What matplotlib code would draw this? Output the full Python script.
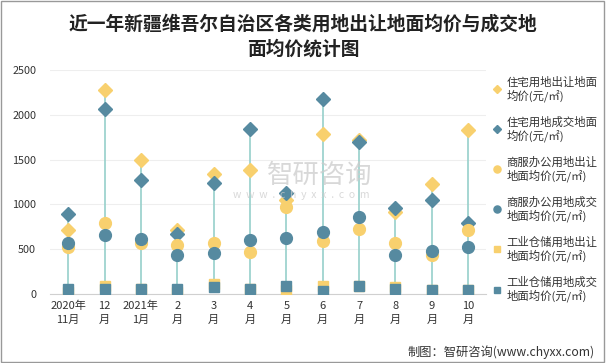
import numpy as np
import matplotlib.pyplot as plt
from matplotlib.patches import Rectangle

plt.rcParams['font.family'] = ['Noto Sans CJK SC', 'DejaVu Sans']

months = ['2020年\n11月', '12\n月', '2021年\n1月', '2\n月', '3\n月', '4\n月',
          '5\n月', '6\n月', '7\n月', '8\n月', '9\n月', '10\n月']

res_offer = [714, 2277, 1495, 714, 1335, 1384, 1049, 1786, 1719, 915, 1228, 1830]
res_deal = [893, 2065, 1272, 670, 1239, 1841, 1131, 2176, 1693, 960, 1045, 796]
com_offer = [521, 789, 573, 543, 573, 465, 967, 595, 729, 573, 439, 718]
com_deal = [565, 655, 617, 432, 454, 606, 629, 688, 856, 439, 476, 528]
ind_offer = [25, 95, 56, 22, 108, 56, 45, 90, 89, 75, 48, 48]
ind_deal = [56, 60, 56, 56, 74, 56, 89, 37, 89, 52, 48, 48]

labels = ['住宅用地出让地面\n均价(元/㎡)', '住宅用地成交地面\n均价(元/㎡)',
          '商服办公用地出让\n地面均价(元/㎡)', '商服办公用地成交\n地面均价(元/㎡)',
          '工业仓储用地出让\n地面均价(元/㎡)', '工业仓储用地成交\n地面均价(元/㎡)']

yellow = '#F8D06E'
blue = '#568AA0'
teal = '#96D0CB'

fig = plt.figure(figsize=(6.06, 3.63), dpi=100)
ax = fig.add_axes([0.0825, 0.19, 0.72, 0.617])

x = np.arange(len(months))
allv = np.array([res_offer, res_deal, com_offer, com_deal, ind_offer, ind_deal])
ax.vlines(x, allv.min(axis=0), allv.max(axis=0), color=teal, lw=1.2, zorder=1)

series = [(res_offer, yellow, 'D', 7), (res_deal, blue, 'D', 7),
          (com_offer, yellow, 'o', 8.5), (com_deal, blue, 'o', 8.5),
          (ind_offer, yellow, 's', 7.5), (ind_deal, blue, 's', 7.5)]
handles = []
for i, (vals, c, m, s) in enumerate(series):
    h, = ax.plot(x, vals, ls='none', marker=m, ms=s, color=c, mec=c, zorder=2 + i)
    handles.append(h)

ax.set_xlim(-0.5, 11.5)
ax.set_ylim(0, 2500)
ax.set_yticks(range(0, 2501, 500))
ax.set_xticks(x)
ax.set_xticklabels(months, fontsize=8, color='#333333', linespacing=1.45)
ax.tick_params(axis='y', labelsize=7.8, colors='#333333', length=0, pad=10)
ax.tick_params(axis='x', length=0, pad=5)
ax.grid(axis='y', color='#eeeeee', lw=0.8)
ax.set_axisbelow(True)
for sp in ['top', 'right', 'left']:
    ax.spines[sp].set_visible(False)
ax.spines['bottom'].set_color('#d0d0d0')

leg = fig.legend(handles, labels, loc='upper left', bbox_to_anchor=(0.815, 0.79),
                 frameon=False, fontsize=8.2, labelspacing=1.25, handlelength=0.6,
                 handletextpad=0.5, markerscale=0.6, borderpad=0, borderaxespad=0)
for t in leg.get_texts():
    t.set_color('#333333')

fig.text(0.5, 0.899, '近一年新疆维吾尔自治区各类用地出让地面均价与成交地\n面均价统计图',
         ha='center', va='center', fontsize=13.5, fontweight='bold', color='#222222',
         linespacing=1.44)

# watermark
fig.text(0.44, 0.518, '智研咨询', fontsize=19, color='#cccccc', alpha=0.75,
         va='center', zorder=0)
fig.text(0.385, 0.462, 'w  w  w  .  c  h  y  x  x  .  c  o  m', fontsize=7.5,
         color='#cccccc', alpha=0.75, va='center')

fig.text(0.982, 0.03, '制图：智研咨询(www.chyxx.com)', ha='right', va='center',
         fontsize=8.8, color='#333333')

fig.patches.append(Rectangle((0.002, 0.003), 0.995, 0.994, transform=fig.transFigure,
                             fill=False, edgecolor='#999999', lw=1))

fig.savefig('out.png', dpi=100)
